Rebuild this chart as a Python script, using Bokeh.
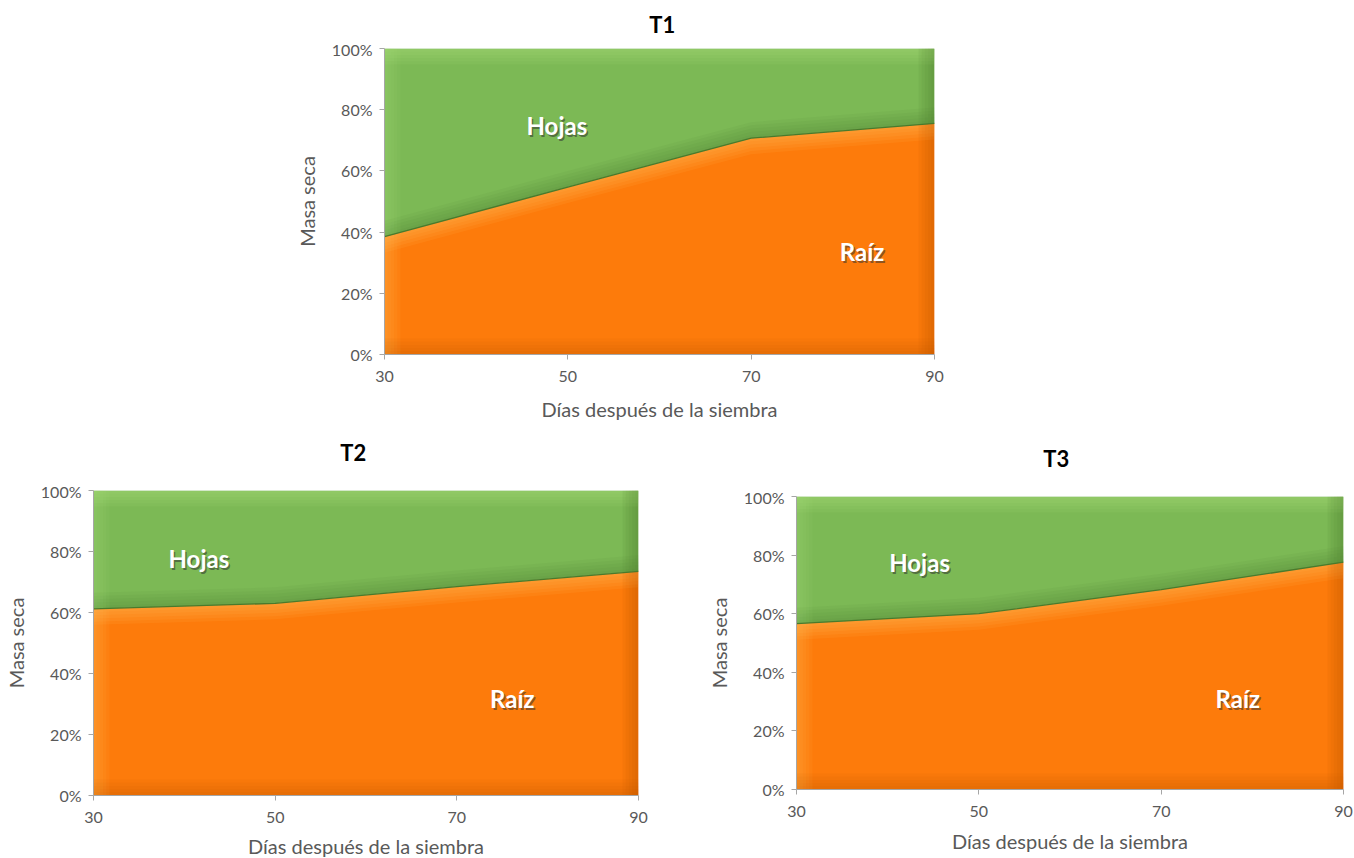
import numpy as np
from bokeh.plotting import figure
from bokeh.layouts import column, row
from bokeh.models import Spacer, FixedTicker, PrintfTickFormatter, Range1d
from bokeh.embed import file_html
from bokeh.resources import INLINE
from bokeh.core.properties import value

# ---------------- data ----------------
dias = [30, 50, 70, 90]
y_ticks = [0, 20, 40, 60, 80, 100]

raiz_t1 = [38.5, 54.7, 70.7, 75.5]
hojas_t1 = [61.5, 45.3, 29.3, 24.5]

raiz_t2 = [61.2, 63.0, 68.5, 73.5]
hojas_t2 = [38.8, 37.0, 31.5, 26.5]

raiz_t3 = [56.6, 60.0, 68.2, 77.6]
hojas_t3 = [43.4, 40.0, 31.8, 22.4]

titles = ["T1", "T2", "T3"]
series_names = ["Raíz", "Hojas"]
x_label = "Días después de la siembra"
y_label = "Masa seca"

# ---------------- styles ----------------
FONT = "Lato"
ORANGE = "#fd7b0b"
ORANGE_LIGHT = "#ffc060"
ORANGE_DARK = "#c45800"
GREEN = "#7cb955"
GREEN_LIGHT = "#b0e684"
GREEN_DARK = "#4f8530"
AXIS_COL = "#a6a6a6"
TXT_COL = "#595959"
TOP_PAD = 9


def bevel(p, x, lo, hi, light, dark, fw, fh):
    x = np.asarray(x, dtype=float)
    lo = np.asarray(lo, dtype=float)
    hi = np.asarray(hi, dtype=float)
    xr = x[-1] - x[0]
    bev_px = 16
    n = 5
    for k in range(n):
        f = (k + 1) / n
        ty = bev_px * f * 100.0 / fh
        tx = bev_px * f * xr / fw
        a = 0.10
        p.varea(x=x, y1=np.maximum(hi - ty, lo), y2=hi, fill_color=light, fill_alpha=a)
        p.varea(x=x, y1=lo, y2=np.minimum(lo + ty, hi), fill_color=dark, fill_alpha=a * 0.8)
        xl = x[0] + tx
        p.patch([x[0], xl, xl, x[0]],
                [lo[0], np.interp(xl, x, lo), np.interp(xl, x, hi), hi[0]],
                fill_color=light, fill_alpha=a * 0.7, line_color=None)
        xrr = x[-1] - tx
        p.patch([xrr, x[-1], x[-1], xrr],
                [np.interp(xrr, x, lo), lo[-1], hi[-1], np.interp(xrr, x, hi)],
                fill_color=dark, fill_alpha=a * 1.2, line_color=None)


def make_title(title, fw, band_h, bl, br, tx, ty):
    # a slim band above each chart that only holds its title
    t = figure(title=None, frame_width=fw, frame_height=band_h,
               x_range=Range1d(30, 90), y_range=Range1d(band_h, 0),
               output_backend="svg", toolbar_location=None,
               min_border_left=bl, min_border_right=br,
               min_border_top=0, min_border_bottom=0,
               background_fill_color="white", border_fill_color="white")
    t.outline_line_color = None
    t.axis.visible = False
    t.grid.visible = False
    t.text(x=[tx], y=[ty], text=[title],
           text_font=value(FONT), text_font_size="22px", text_font_style="bold",
           text_color="#000000", text_align="center", text_baseline="middle")
    return t


def make_chart(raiz, hojas, fw, fh, bl, br, bb, lab_pos, xlab_standoff):
    p = figure(title=None, frame_width=fw, frame_height=fh,
               x_range=Range1d(30, 90), y_range=Range1d(0, 100),
               output_backend="svg", toolbar_location=None,
               min_border_left=bl, min_border_right=br,
               min_border_top=TOP_PAD, min_border_bottom=bb,
               background_fill_color="white", border_fill_color="white")
    p.outline_line_color = None
    p.grid.visible = False

    x = np.asarray(dias, dtype=float)
    r = np.asarray(raiz, dtype=float)
    top = r + np.asarray(hojas, dtype=float)
    zero = np.zeros_like(r)

    p.varea(x=x, y1=zero, y2=r, fill_color=ORANGE)
    p.varea(x=x, y1=r, y2=top, fill_color=GREEN)
    bevel(p, x, zero, r, ORANGE_LIGHT, ORANGE_DARK, fw, fh)
    bevel(p, x, r, top, GREEN_LIGHT, GREEN_DARK, fw, fh)
    p.line(x, r, line_color="#4a7a2c", line_width=1.3)

    # series labels
    lx = [lab_pos[0][0], lab_pos[1][0]]
    ly = [lab_pos[0][1], lab_pos[1][1]]
    names = [series_names[1], series_names[0]]
    p.text(x=lx, y=ly, text=names, x_offset=1.5, y_offset=2,
           text_font=value(FONT), text_font_style="bold", text_font_size="24px",
           text_color="#303030", text_alpha=0.55, text_align="center",
           text_baseline="middle")
    p.text(x=lx, y=ly, text=names,
           text_font=value(FONT), text_font_style="bold", text_font_size="24px",
           text_color="white", text_align="center", text_baseline="middle")

    # axes
    p.xaxis.ticker = FixedTicker(ticks=dias)
    p.yaxis.ticker = FixedTicker(ticks=y_ticks)
    p.yaxis.formatter = PrintfTickFormatter(format="%d%%")
    for ax in (p.xaxis[0], p.yaxis[0]):
        ax.axis_line_color = AXIS_COL
        ax.major_tick_line_color = AXIS_COL
        ax.minor_tick_line_color = None
        ax.major_tick_out = 5
        ax.major_tick_in = 0
        ax.major_label_text_font = FONT
        ax.major_label_text_font_size = "16px"
        ax.major_label_text_color = TXT_COL
        ax.axis_label_text_font = FONT
        ax.axis_label_text_font_size = "20px"
        ax.axis_label_text_font_style = "normal"
        ax.axis_label_text_color = TXT_COL
    p.xaxis.axis_label = x_label
    p.yaxis.axis_label = y_label
    p.xaxis.major_label_standoff = 11
    p.yaxis.major_label_standoff = 7
    p.xaxis.axis_label_standoff = xlab_standoff
    p.yaxis.axis_label_standoff = 10
    return p


# T1 (top, centred)
t1 = make_title(titles[0], 550, 48 - TOP_PAD, 94, 20, 60.3, 24)
p1 = make_chart(raiz_t1, hojas_t1, 550, 306, 94, 20, 72,
                [(48.8, 74.8), (82.1, 33.7)], 12)
# T2 (bottom left)
t2 = make_title(titles[1], 545, 64 - TOP_PAD, 92, 48, 58.6, 26)
p2 = make_chart(raiz_t2, hojas_t2, 545, 305, 92, 48, 63,
                [(41.6, 77.7), (76.1, 31.8)], 8)
# T3 (bottom right)
t3 = make_title(titles[2], 547, 70 - TOP_PAD, 110, 12, 58.5, 32)
p3 = make_chart(raiz_t3, hojas_t3, 547, 293, 110, 12, 69,
                [(43.5, 77.5), (78.4, 31.2)], 9)

layout = column(
    row(Spacer(width=290, height=426), column(t1, p1)),
    row(column(t2, p2), column(t3, p3)),
)

open("out.html", "w").write(file_html(layout, INLINE))
